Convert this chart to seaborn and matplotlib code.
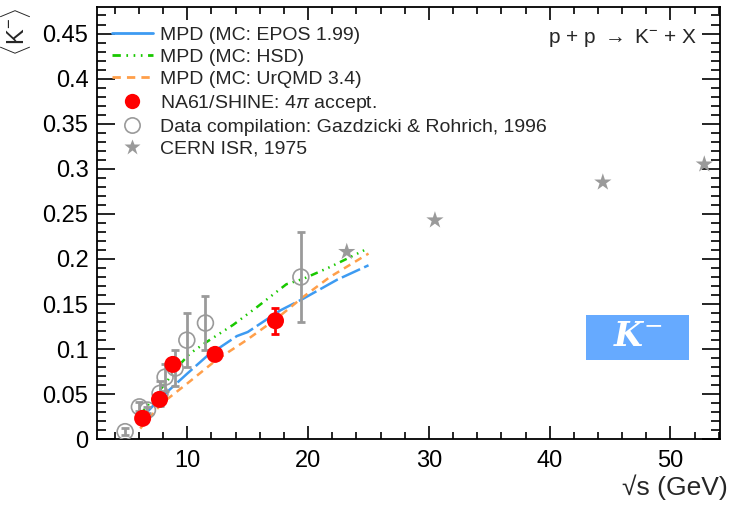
import matplotlib
matplotlib.use('Agg')
import matplotlib.pyplot as plt
from matplotlib.ticker import MultipleLocator
from matplotlib.lines import Line2D
import pandas as pd
import seaborn as sns

# MC curves (MPD)
epos_x = [6.3, 7.5, 8.2, 10.0, 11.6, 14.1, 15.0, 17.7, 19.6, 22.4, 25.0]
epos_y = [0.025, 0.042, 0.051, 0.073, 0.092, 0.1145, 0.119, 0.143, 0.156, 0.177, 0.193]
hsd_x = [6.1, 7.5, 8.3, 9.1, 10.2, 11.6, 13.8, 15.8, 18.2, 19.6, 21.8, 25.0]
hsd_y = [0.027, 0.051, 0.064, 0.079, 0.095, 0.108, 0.127, 0.147, 0.172, 0.178, 0.191, 0.212]
urqmd_x = [6.1, 7.9, 10.0, 12.4, 14.9, 17.4, 19.6, 21.8, 25.0]
urqmd_y = [0.012, 0.040, 0.062, 0.088, 0.110, 0.134, 0.158, 0.180, 0.206]

# NA61/SHINE
na61_x = [6.3, 7.7, 8.8, 12.3, 17.3]
na61_y = [0.0233, 0.0443, 0.0831, 0.0942, 0.1315]
na61_err = [0.002, 0.003, 0.004, 0.004, 0.0145]

# Gazdzicki & Rohrich compilation
gr_x = [4.85, 6.03, 6.7, 7.74, 8.16, 8.99, 9.96, 11.5, 19.4]
gr_y = [0.0085, 0.036, 0.0325, 0.051, 0.069, 0.079, 0.110, 0.129, 0.180]
gr_err = [0.004, 0.005, 0.003, 0.014, 0.015, 0.02, 0.03, 0.03, 0.05]

# CERN ISR
isr_x = [23.2, 30.5, 44.4, 52.8]
isr_y = [0.208, 0.243, 0.285, 0.305]

c_epos = '#3d9bf2'
c_hsd = '#19c800'
c_urqmd = '#ff9f4a'
c_red = '#ff0000'
c_gray = '#9a9a9a'

sns.set_style('ticks')
plt.rcParams['font.family'] = ['Liberation Sans', 'DejaVu Sans']
plt.rcParams['mathtext.fontset'] = 'custom'
plt.rcParams['mathtext.rm'] = 'Liberation Sans'
plt.rcParams['mathtext.it'] = 'Liberation Sans:italic'

fig = plt.figure(figsize=(7.35, 5.05), dpi=100)
ax = fig.add_axes([0.1316, 0.130, 0.848, 0.8554])

curves = pd.concat([
    pd.DataFrame({'x': epos_x, 'y': epos_y, 'model': 'epos'}),
    pd.DataFrame({'x': hsd_x, 'y': hsd_y, 'model': 'hsd'}),
    pd.DataFrame({'x': urqmd_x, 'y': urqmd_y, 'model': 'urqmd'}),
])
sns.lineplot(data=curves, x='x', y='y', hue='model', style='model',
             palette={'epos': c_epos, 'hsd': c_hsd, 'urqmd': c_urqmd},
             dashes={'epos': (8, 1.8), 'hsd': (3, 2, 0.6, 2, 0.6, 2, 0.6, 2), 'urqmd': (3, 2.2)},
             lw=1.8, sort=False, estimator=None, legend=False, ax=ax)

ax.errorbar(gr_x, gr_y, yerr=gr_err, fmt='none', ecolor=c_gray, elinewidth=2,
            capsize=3, capthick=2, zorder=3)
sns.scatterplot(x=gr_x, y=gr_y, marker='o', s=130, facecolor='none',
                edgecolor=c_gray, linewidth=1.2, ax=ax, zorder=4)
sns.scatterplot(x=isr_x, y=isr_y, marker='*', s=170, color=c_gray,
                edgecolor='none', ax=ax, zorder=4)
ax.errorbar(na61_x, na61_y, yerr=na61_err, fmt='none', ecolor=c_red, elinewidth=2,
            capsize=3, capthick=2, zorder=5)
sns.scatterplot(x=na61_x, y=na61_y, marker='o', s=150, color=c_red,
                edgecolor='none', ax=ax, zorder=6)

ax.set_xlim(2.5, 54.1)
ax.set_ylim(0, 0.479)
ax.xaxis.set_major_locator(MultipleLocator(10))
ax.xaxis.set_minor_locator(MultipleLocator(2))
ax.yaxis.set_minor_locator(MultipleLocator(0.01))
ax.set_yticks([0, 0.05, 0.1, 0.15, 0.2, 0.25, 0.3, 0.35, 0.4, 0.45])
ax.set_yticklabels(['0', '0.05', '0.1', '0.15', '0.2', '0.25', '0.3', '0.35', '0.4', '0.45'])
ax.tick_params(axis='both', which='both', direction='in', top=True, right=True,
               width=1.2, labelsize=17, colors='black')
ax.tick_params(axis='y', which='major', length=13, pad=6)
ax.tick_params(axis='y', which='minor', length=6.5)
ax.tick_params(axis='x', which='major', length=9.5, pad=8)
ax.tick_params(axis='x', which='minor', length=4.7)
for sp in ax.spines.values():
    sp.set_linewidth(1.3)
    sp.set_color('black')
ax.set_xlabel('')
ax.set_ylabel('')

fig.text(0.9905, 0.036, '√s (GeV)', ha='right', va='center', fontsize=19)
fig.text(0.022, 0.985, r'$\langle$K$^{-}$$\rangle$', rotation=90, ha='center', va='top', fontsize=17)

ax.text(0.963, 0.929, r'p + p $\rightarrow$ K$^{-}$ + X', transform=ax.transAxes,
        ha='right', va='center', fontsize=15)

ax.add_patch(plt.Rectangle((0.785, 0.1836), 0.165, 0.104, transform=ax.transAxes,
                           facecolor='#66aaff', edgecolor='none', zorder=2))
ax.text(0.8675, 0.235, r'$\mathbfit{K}^{-}$', transform=ax.transAxes, ha='center', va='center',
        fontsize=24, color='white', math_fontfamily='dejavuserif', zorder=3)

handles = [
    Line2D([], [], color=c_epos, lw=2),
    Line2D([], [], color=c_hsd, lw=2, dashes=(3, 2, 0.6, 2, 0.6, 2, 0.6, 2)),
    Line2D([], [], color=c_urqmd, lw=2, dashes=(3, 2.2)),
    Line2D([], [], color=c_red, marker='o', ls='none', ms=11, mec='none'),
    Line2D([], [], color=c_gray, marker='o', ls='none', ms=11, mfc='none', mew=1.2),
    Line2D([], [], color=c_gray, marker='*', ls='none', ms=12, mec='none'),
]
labels = ['MPD (MC: EPOS 1.99)', 'MPD (MC: HSD)', 'MPD (MC: UrQMD 3.4)',
          r'NA61/SHINE: 4$\pi$ accept.', 'Data compilation: Gazdzicki & Rohrich, 1996',
          'CERN ISR, 1975']
ax.legend(handles, labels, loc='upper left', bbox_to_anchor=(0.0245, 0.956),
          frameon=False, fontsize=14, handlelength=2.1, handletextpad=0.35,
          labelspacing=0.23, borderpad=0, borderaxespad=0)

fig.savefig('out.png', dpi=100)
